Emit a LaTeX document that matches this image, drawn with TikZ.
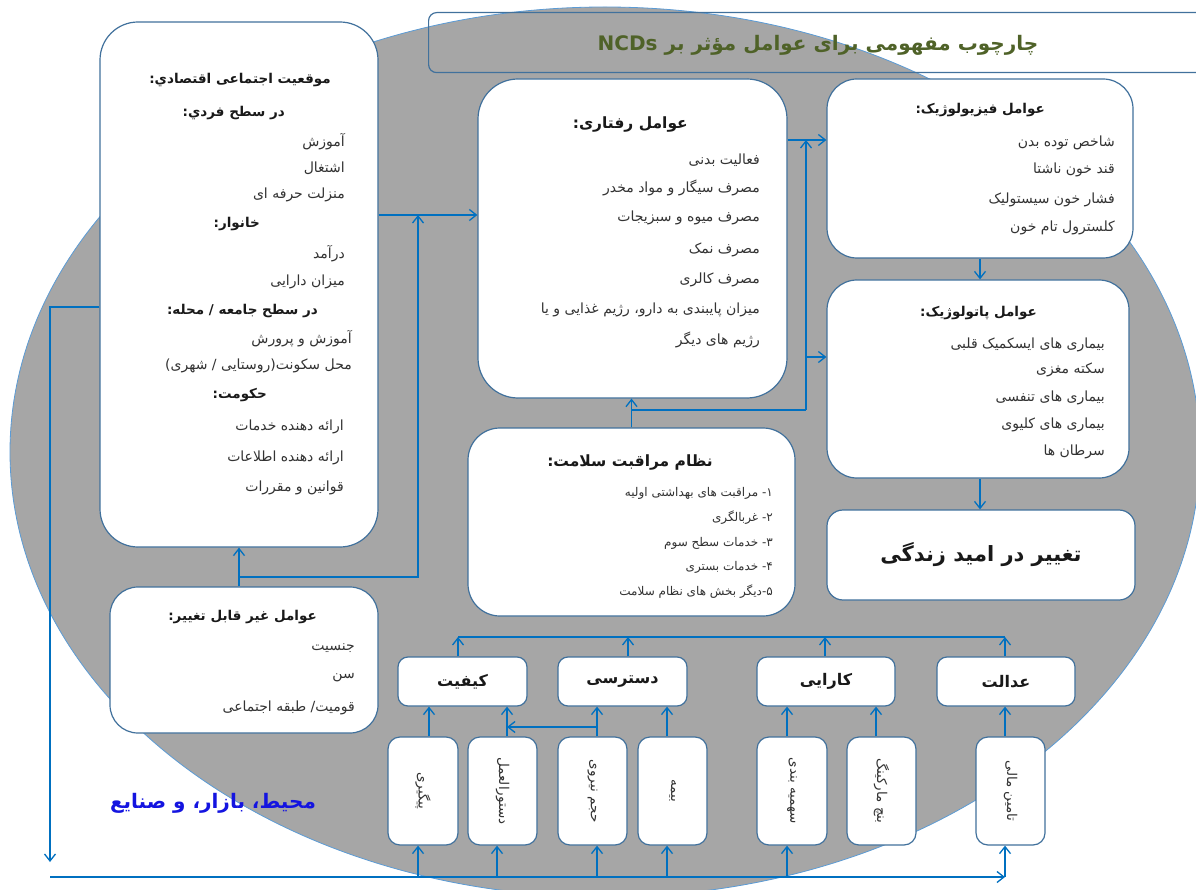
\documentclass[tikz,border=0pt]{standalone}
\usepackage{fontspec}
\usetikzlibrary{arrows.meta}
\TeXXeTstate=1
\newfontfamily\fa[Script=Arabic]{DejaVu Sans}
\newcommand{\R}[1]{\beginR #1\endR}
\definecolor{gbg}{HTML}{A6A6A6}
\definecolor{ebd}{HTML}{5B9BD5}
\definecolor{bbd}{HTML}{41719C}
\definecolor{lnblue}{HTML}{0070C0}
\definecolor{tgreen}{HTML}{4F6228}
\definecolor{txt}{HTML}{333333}
\definecolor{envblue}{HTML}{1414E0}
\begin{document}
\begin{tikzpicture}[x=1pt,y=-1pt,
 box/.style={draw=bbd, line width=1.2pt, fill=white, inner sep=0pt},
 tx/.style={font={\fa\fontsize{14}{16}\selectfont}, text=txt, inner sep=0pt, anchor=east},
 sm/.style={font={\fa\fontsize{12}{14}\selectfont}, text=txt, inner sep=0pt, anchor=east},
 hd/.style={font={\fa\bfseries\fontsize{13.5}{16}\selectfont}, text=black!90, inner sep=0pt, anchor=east},
 bighd/.style={font={\fa\bfseries\fontsize{15.5}{18}\selectfont}, text=black!90, inner sep=0pt, anchor=east},
 cat/.style={font={\fa\bfseries\fontsize{16}{19}\selectfont}, text=black!90, inner sep=0pt},
 vt/.style={font={\fa\fontsize{13.5}{16}\selectfont}, text=txt, inner sep=0pt, rotate=-90},
 vbox/.style={box, rounded corners=12pt, minimum height=108pt},
 cbox/.style={box, rounded corners=10pt, minimum height=49pt},
 arr/.style={draw=lnblue, line width=1.3pt, -{Straight Barb[length=7pt,width=11pt]}},
 conn/.style={draw=lnblue, line width=1.3pt},
]
\clip (0,0) rectangle (1196,890);
\fill[white] (0,0) rectangle (1196,890);
\draw[fill=gbg, draw=ebd, line width=0.8pt] (605,452) ellipse [x radius=595, y radius=445];

% title
\node[draw=bbd, line width=1.2pt, rounded corners=8pt, minimum width=790pt, minimum height=60pt, anchor=north west, inner sep=0pt] (title) at (428,12) {};
\node[font={\fa\bfseries\fontsize{20}{24}\selectfont}, text=tgreen, inner sep=0pt] (titlet) at (818,45) {\R{چارچوب مفهومی برای عوامل مؤثر بر \beginL NCDs\endL}};

% boxes
\node[box, rounded corners=38pt, minimum width=278pt, minimum height=525pt] (socio) at (239,284.5) {};
\node[box, rounded corners=40pt, minimum width=309pt, minimum height=319pt] (beh) at (632.5,238.5) {};
\node[box, rounded corners=30pt, minimum width=306pt, minimum height=179pt] (phys) at (980,168.5) {};
\node[box, rounded corners=30pt, minimum width=302pt, minimum height=198pt] (patho) at (978,379) {};
\node[box, rounded corners=16pt, minimum width=308pt, minimum height=90pt] (life) at (981,555) {};
\node[box, rounded corners=32pt, minimum width=327pt, minimum height=188pt] (health) at (631.5,522) {};
\node[box, rounded corners=28pt, minimum width=268pt, minimum height=146pt] (nonmod) at (244,660) {};

\node[cbox, minimum width=129pt] (qual) at (462.5,681.5) {};
\node[cbox, minimum width=129pt] (acc) at (622.5,681.5) {};
\node[cbox, minimum width=138pt] (eff) at (826,681.5) {};
\node[cbox, minimum width=138pt] (equ) at (1006,681.5) {};

\node[vbox, minimum width=70pt] (v1) at (423,791) {};
\node[vbox, minimum width=69pt] (v2) at (502.5,791) {};
\node[vbox, minimum width=69pt] (v3) at (592.5,791) {};
\node[vbox, minimum width=69pt] (v4) at (672.5,791) {};
\node[vbox, minimum width=70pt] (v5) at (792,791) {};
\node[vbox, minimum width=69pt] (v6) at (881.5,791) {};
\node[vbox, minimum width=69pt] (v7) at (1010.5,791) {};

% socio text
\node[hd, anchor=center] (s1) at (240,80) {\R{موقعیت اجتماعی اقتصادي:}};
\node[hd] (s2) at (285,113) {\R{در سطح فردي:}};
\node[tx] (s3) at (345,142) {\R{آموزش}};
\node[tx] (s4) at (345,168) {\R{اشتغال}};
\node[tx] (s5) at (345,195) {\R{منزلت حرفه ای}};
\node[hd] (s6) at (260,224) {\R{خانوار:}};
\node[tx] (s7) at (345,254) {\R{درآمد}};
\node[tx] (s8) at (345,282) {\R{میزان دارایی}};
\node[hd] (s9) at (318,311) {\R{در سطح جامعه / محله:}};
\node[tx] (s10) at (352,339) {\R{آموزش و پرورش}};
\node[tx] (s11) at (352,366) {\R{محل سکونت(روستایی / شهری)}};
\node[hd] (s12) at (267,395) {\R{حکومت:}};
\node[tx] (s13) at (344,427) {\R{ارائه دهنده خدمات}};
\node[tx] (s14) at (344,458) {\R{ارائه دهنده اطلاعات}};
\node[tx] (s15) at (344,488) {\R{قوانین و مقررات}};

% behavioral text
\node[bighd] (r1) at (688,125) {\R{عوامل رفتاری:}};
\node[tx] (r2) at (760,160) {\R{فعالیت بدنی}};
\node[tx] (r3) at (760,188) {\R{مصرف سیگار و مواد مخدر}};
\node[tx] (r4) at (760,218) {\R{مصرف میوه و سبزیجات}};
\node[tx] (r5) at (760,250) {\R{مصرف نمک}};
\node[tx] (r6) at (760,280) {\R{مصرف کالری}};
\node[tx] (r7) at (760,310) {\R{میزان پایبندی به دارو، رژیم غذایی و یا}};
\node[tx] (r8) at (760,340) {\R{رژیم های دیگر}};

% physiological text
\node[hd] (f1) at (1045,110) {\R{عوامل فیزیولوژیک:}};
\node[tx] (f2) at (1115,143) {\R{شاخص توده بدن}};
\node[tx] (f3) at (1115,170) {\R{قند خون ناشتا}};
\node[tx] (f4) at (1115,200) {\R{فشار خون سیستولیک}};
\node[tx] (f5) at (1115,228) {\R{کلسترول تام خون}};

% pathological text
\node[hd] (p1) at (1037,313) {\R{عوامل پاتولوژیک:}};
\node[tx] (p2) at (1105,345) {\R{بیماری های ایسکمیک قلبی}};
\node[tx] (p3) at (1105,370) {\R{سکته مغزی}};
\node[tx] (p4) at (1105,398) {\R{بیماری های تنفسی}};
\node[tx] (p5) at (1105,425) {\R{بیماری های کلیوی}};
\node[tx] (p6) at (1105,452) {\R{سرطان ها}};

% life expectancy
\node[font={\fa\bfseries\fontsize{21}{25}\selectfont}, text=black!90, inner sep=0pt] (lifet) at (life) {\R{تغییر در امید زندگی}};

% health system text
\node[bighd] (h1t) at (713,463) {\R{نظام مراقبت سلامت:}};
\node[sm] (h2t) at (773,493) {\R{۱\kern0pt- مراقبت های بهداشتی اولیه}};
\node[sm] (h3t) at (773,518) {\R{۲\kern0pt- غربالگری}};
\node[sm] (h4t) at (773,543) {\R{۳\kern0pt- خدمات سطح سوم}};
\node[sm] (h5t) at (773,567) {\R{۴\kern0pt- خدمات بستری}};
\node[sm] (h6t) at (773,592) {\R{۵\kern0pt-\kern0pt دیگر بخش های نظام سلامت}};

% non-modifiable text
\node[hd] (n1) at (317,617) {\R{عوامل غیر قابل تغییر:}};
\node[tx] (n2) at (355,648) {\R{جنسیت}};
\node[tx] (n3) at (355,678) {\R{سن}};
\node[tx] (n4) at (355,708) {\R{قومیت/ طبقه اجتماعی}};

% category labels
\node[cat] (qualt) at (qual) {\R{کیفیت}};
\node[cat] (acct) at (acc) {\R{دسترسی}};
\node[cat] (efft) at (eff) {\R{کارایی}};
\node[cat] (equt) at (equ) {\R{عدالت}};

% vertical labels
\node[vt] (v1t) at (v1) {\R{پیگیری}};
\node[vt] (v2t) at (v2) {\R{دستورالعمل}};
\node[vt] (v3t) at (v3) {\R{حجم نیروی}};
\node[vt] (v4t) at (v4) {\R{بیمه}};
\node[vt] (v5t) at (v5) {\R{سهمیه بندی}};
\node[vt] (v6t) at (v6) {\R{بنچ مارکینگ}};
\node[vt] (v7t) at (v7) {\R{تامین مالی}};

% environment label
\node[font={\fa\bfseries\fontsize{20}{24}\selectfont}, text=envblue, inner sep=0pt] (env) at (213,803) {\R{محیط، بازار، و صنایع}};

% connectors
\coordinate (sbY) at (0,215);
\draw[arr] (sbY -| socio.east) -- (sbY -| beh.west);
\draw[arr] (nonmod.north -| socio.south) -- (socio.south);
\coordinate (j1) at (239,577);
\coordinate (j2) at (418,577);
\draw[arr] (j1) -- (j2) -- (j2 |- sbY);

\coordinate (lk) at (50,307);
\coordinate (lkend) at (50,862);
\draw[arr] (lk -| socio.west) -- (lk) -- (lkend);

\coordinate (bL) at (50,877);
\coordinate (bR) at (1005,877);
\draw[arr] (bL) -- (bR);
\coordinate (b1) at (418,877);
\coordinate (b2) at (497,877);
\coordinate (b3) at (597,877);
\coordinate (b4) at (667,877);
\coordinate (b5) at (787,877);
\coordinate (b7) at (1005,877);
\draw[arr] (b1) -- (b1 |- v1.south);
\draw[arr] (b2) -- (b2 |- v2.south);
\draw[arr] (b3) -- (b3 |- v3.south);
\draw[arr] (b4) -- (b4 |- v4.south);
\draw[arr] (b5) -- (b5 |- v5.south);
\draw[arr] (b7) -- (b7 |- v7.south);

\coordinate (a1) at (429,0);
\coordinate (a2) at (507,0);
\coordinate (a3) at (597,0);
\coordinate (a4) at (667,0);
\coordinate (a5) at (787,0);
\coordinate (a6) at (876,0);
\coordinate (a7) at (1005,0);
\draw[arr] (a1 |- v1.north) -- (a1 |- qual.south);
\draw[arr] (a2 |- v2.north) -- (a2 |- qual.south);
\draw[arr] (a3 |- v3.north) -- (a3 |- acc.south);
\draw[arr] (a4 |- v4.north) -- (a4 |- acc.south);
\draw[arr] (a5 |- v5.north) -- (a5 |- eff.south);
\draw[arr] (a6 |- v6.north) -- (a6 |- eff.south);
\draw[arr] (a7 |- v7.north) -- (a7 |- equ.south);
\coordinate (hz) at (0,727);
\draw[arr] (a3 |- hz) -- (a2 |- hz);

\coordinate (bus) at (0,637);
\coordinate (u1) at (458,0);
\coordinate (u2) at (628,0);
\coordinate (u3) at (825,0);
\coordinate (u4) at (1005,0);
\draw[conn] (u1 |- bus) -- (u4 |- bus);
\draw[arr] (u1 |- qual.north) -- (u1 |- bus);
\draw[arr] (u2 |- acc.north) -- (u2 |- bus);
\draw[arr] (u3 |- eff.north) -- (u3 |- bus);
\draw[arr] (u4 |- equ.north) -- (u4 |- bus);

\draw[arr] (health.north) -- (health.north |- beh.south);
\coordinate (hh1) at (631.5,410);
\coordinate (hh2) at (806,410);
\draw[conn] (hh1) -- (hh2);
\coordinate (bp) at (0,140);
\draw[arr] (hh2) -- (hh2 |- bp);
\draw[arr] (bp -| beh.east) -- (bp -| phys.west);
\coordinate (pp) at (0,357);
\draw[arr] (pp -| hh2) -- (pp -| patho.west);
\draw[arr] (phys.south) -- (phys.south |- patho.north);
\draw[arr] (phys.south |- patho.south) -- (phys.south |- life.north);
\end{tikzpicture}
\end{document}
